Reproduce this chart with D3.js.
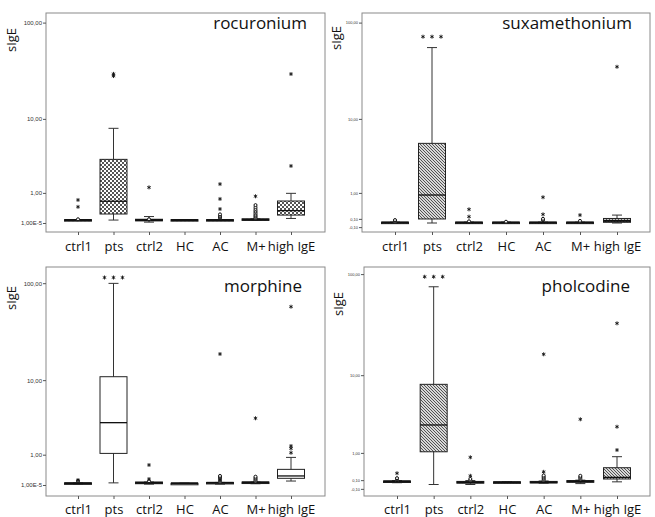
<!DOCTYPE html>
<html>
<head>
<meta charset="utf-8">
<script src="https://cdn.jsdelivr.net/npm/d3@7"></script>
<style>
  body { margin: 0; background: #fff; }
  svg { display: block; }
</style>
</head>
<body>
<div id="chart"></div>
<script>
var groups = ["ctrl1", "pts", "ctrl2", "HC", "AC", "M+", "high IgE"];

// boxes: [low whisker, q1, median, q3, high whisker]
var rocuroniumBoxes = [
  [0.06, 0.06, 0.07, 0.08, 0.08],
  [0.07, 0.23, 0.65, 3.33, 7.85],
  [0.02, 0.05, 0.07, 0.09, 0.16],
  [0.06, 0.06, 0.07, 0.08, 0.08],
  [0.06, 0.06, 0.07, 0.08, 0.08],
  [0.07, 0.07, 0.08, 0.10, 0.10],
  [0.11, 0.20, 0.33, 0.66, 0.98]
];
var rocuroniumExtremes = [[0.45, 0.70], [28.5, 30], [1.27], [], [0.38, 0.74, 1.45], [0.85], [2.72, 29.9]];
var rocuroniumOutliers = [[0.09], [], [0.09], [], [0.12, 0.15, 0.18, 0.22], [0.12, 0.15, 0.18, 0.21, 0.25, 0.29, 0.33, 0.38, 0.44, 0.51], []];

var suxamethoniumBoxes = [
  [0.0, 0.0, 0.01, 0.02, 0.02],
  [0.0, 0.097, 0.905, 5.26, 55.8],
  [0.0, 0.0, 0.01, 0.02, 0.02],
  [0.0, 0.0, 0.01, 0.02, 0.02],
  [0.0, 0.0, 0.01, 0.02, 0.02],
  [0.0, 0.0, 0.01, 0.02, 0.02],
  [0.0, 0.016, 0.05, 0.11, 0.2]
];
var suxamethoniumExtremes = [[], [72, 72, 72], [0.157, 0.37], [], [0.22, 0.81], [0.2], [35.5]];
var suxamethoniumOutliers = [[0.03, 0.05, 0.07], [], [0.04], [0.03], [0.07, 0.1], [0.05], []];

var morphineBoxes = [
  [0.02, 0.02, 0.04, 0.05, 0.05],
  [0.05, 1.06, 3.16, 10.9, 99.6],
  [0.02, 0.03, 0.05, 0.07, 0.07],
  [0.04, 0.04, 0.04, 0.04, 0.04],
  [0.02, 0.03, 0.05, 0.06, 0.06],
  [0.03, 0.04, 0.06, 0.07, 0.07],
  [0.095, 0.165, 0.23, 0.43, 0.88]
];
var morphineExtremes = [[0.12], [114, 114, 114], [0.147, 0.58], [], [19], [3.6], [1.09, 1.31, 1.44, 58]];
var morphineOutliers = [[0.1], [], [0.09], [], [0.08, 0.11, 0.14, 0.17, 0.2, 0.23], [0.09, 0.12, 0.15, 0.18, 0.21], []];

var pholcodineBoxes = [
  [0.04, 0.05, 0.07, 0.08, 0.09],
  [0.0, 1.05, 2.69, 8.0, 75.5],
  [0.0, 0.03, 0.05, 0.07, 0.09],
  [0.05, 0.05, 0.05, 0.06, 0.06],
  [0.03, 0.04, 0.05, 0.07, 0.08],
  [0.02, 0.05, 0.07, 0.09, 0.1],
  [0.06, 0.128, 0.17, 0.445, 0.84]
];
var pholcodineExtremes = [[0.28], [94.3, 94.3, 94.3], [0.21, 0.815], [], [0.32, 16.4], [3.18], [1.13, 2.55, 33.3]];
var pholcodineOutliers = [[0.1, 0.12, 0.15], [], [0.1, 0.13], [], [0.1, 0.13, 0.16, 0.19, 0.22], [0.12, 0.15, 0.18, 0.21], []];

var ticksA = [0.00001, 1, 10, 100];
var tickLabelsA = ["1,00E-5", "1,00", "10,00", "100,00"];
var ticksB = [-0.1, 0.1, 1, 10, 100];
var tickLabelsB = ["-0,10", "0,10", "1,00", "10,00", "100,00"];

var W = 655, H = 517;
var svg = d3.select("#chart").append("svg").attr("width", W).attr("height", H);
var defs = svg.append("defs");

// checker pattern
var pc = defs.append("pattern").attr("id", "checker").attr("patternUnits", "userSpaceOnUse")
  .attr("width", 4).attr("height", 4);
pc.append("rect").attr("width", 4).attr("height", 4).attr("fill", "#fff");
pc.append("rect").attr("width", 2).attr("height", 2).attr("fill", "#555");
pc.append("rect").attr("x", 2).attr("y", 2).attr("width", 2).attr("height", 2).attr("fill", "#555");

// diagonal hatch
var ph = defs.append("pattern").attr("id", "hatch").attr("patternUnits", "userSpaceOnUse")
  .attr("width", 3).attr("height", 3);
ph.append("rect").attr("width", 3).attr("height", 3).attr("fill", "#d8d8d8");
ph.append("path").attr("d", "M-1,-1 L4,4 M-1,2 L1,4 M2,-1 L4,1").attr("stroke", "#444").attr("stroke-width", 0.9);

var panels = [
  {title: "rocuronium", boxes: rocuroniumBoxes, extremes: rocuroniumExtremes, outliers: rocuroniumOutliers,
   fill: "url(#checker)", frame: [46, 13, 325, 232], zeroY: 223, topY: 22.6, xr: [78, 291],
   ticks: ticksA, tickLabels: tickLabelsA, tickFont: 6, titleX: 307, titleY: 29, ylabY: 40, ylabX: 16, xlabY: 251},
  {title: "suxamethonium", boxes: suxamethoniumBoxes, extremes: suxamethoniumExtremes, outliers: suxamethoniumOutliers,
   fill: "url(#hatch)", frame: [362, 13, 650, 232], zeroY: 223, topY: 22.6, xr: [395, 617],
   ticks: ticksB, tickLabels: tickLabelsB, tickFont: 4, titleX: 632, titleY: 29, ylabY: 38, ylabX: 341, xlabY: 251},
  {title: "morphine", boxes: morphineBoxes, extremes: morphineExtremes, outliers: morphineOutliers,
   fill: "#fff", frame: [46, 267, 325, 496], zeroY: 485, topY: 283.2, xr: [78, 291],
   ticks: ticksA, tickLabels: tickLabelsA, tickFont: 6, titleX: 302, titleY: 292, ylabY: 298, ylabX: 16, xlabY: 514},
  {title: "pholcodine", boxes: pholcodineBoxes, extremes: pholcodineExtremes, outliers: pholcodineOutliers,
   fill: "url(#hatch)", frame: [364, 267, 650, 496], zeroY: 484.5, topY: 274.1, xr: [397, 617],
   ticks: ticksB, tickLabels: tickLabelsB, tickFont: 4, titleX: 630, titleY: 292, ylabY: 304, ylabX: 343, xlabY: 514}
];

var font = "'Open Sans', Lato, sans-serif";
var boxW = 27;

function asterisk(r) {
  var p = "";
  [90, 30, -30].forEach(function(a) {
    var t = a * Math.PI / 180, dx = r * Math.cos(t), dy = r * Math.sin(t);
    p += "M" + (-dx) + "," + (-dy) + "L" + dx + "," + dy;
  });
  return p;
}

panels.forEach(function(p) {
  var g = svg.append("g");
  var f = p.frame;

  var x = d3.scalePoint().domain(groups).range(p.xr);
  var y = d3.scaleSymlog().constant(1).domain([0, 100]).range([p.zeroY, p.topY]);

  // frame
  g.append("rect").attr("x", f[0]).attr("y", f[1]).attr("width", f[2] - f[0]).attr("height", f[3] - f[1])
    .attr("fill", "none").attr("stroke", "#8a8a8a").attr("stroke-width", 1);

  // y axis
  var yAxis = d3.axisLeft(y).tickValues(p.ticks).tickSize(3).tickPadding(1)
    .tickFormat(function(d, i) { return p.tickLabels[i]; });
  var ya = g.append("g").attr("transform", "translate(" + f[0] + ",0)").call(yAxis);
  ya.select(".domain").remove();
  ya.selectAll("line").attr("stroke", "#555");
  ya.selectAll("text").style("font-size", p.tickFont + "px").style("font-family", "Arial, sans-serif").attr("fill", "#333");

  // x axis
  var xAxis = d3.axisBottom(x).tickSize(3).tickPadding(4);
  var xa = g.append("g").attr("transform", "translate(0," + f[3] + ")").call(xAxis);
  xa.select(".domain").remove();
  xa.selectAll("line").attr("stroke", "#555");
  xa.selectAll("text").attr("y", null).attr("dy", null)
    .attr("transform", "translate(0," + (p.xlabY - f[3]) + ")")
    .style("font-size", "13px").style("font-family", font).attr("fill", "#111");

  // whiskers + boxes
  var bx = g.selectAll(".box").data(p.boxes).enter().append("g").attr("class", "box");
  bx.append("line")
    .attr("x1", function(d, i) { return x(groups[i]); })
    .attr("x2", function(d, i) { return x(groups[i]); })
    .attr("y1", function(d) { return y(d[0]); })
    .attr("y2", function(d) { return y(d[4]); })
    .attr("stroke", "#333");
  bx.selectAll(".cap").data(function(d, i) { return [[d[0], i], [d[4], i]]; }).enter().append("line")
    .attr("x1", function(d) { return x(groups[d[1]]) - 5; })
    .attr("x2", function(d) { return x(groups[d[1]]) + 5; })
    .attr("y1", function(d) { return y(d[0]); })
    .attr("y2", function(d) { return y(d[0]); })
    .attr("stroke", "#333");
  bx.append("rect")
    .attr("x", function(d, i) { return x(groups[i]) - boxW / 2; })
    .attr("y", function(d) { return y(d[3]); })
    .attr("width", boxW)
    .attr("height", function(d) { return Math.max(1.5, y(d[1]) - y(d[3])); })
    .attr("fill", p.fill).attr("stroke", "#222").attr("stroke-width", 1);
  bx.append("line")
    .attr("x1", function(d, i) { return x(groups[i]) - boxW / 2; })
    .attr("x2", function(d, i) { return x(groups[i]) + boxW / 2; })
    .attr("y1", function(d) { return y(d[2]); })
    .attr("y2", function(d) { return y(d[2]); })
    .attr("stroke", "#111").attr("stroke-width", function(d) { return y(d[1]) - y(d[3]) < 4 ? 2 : 1.3; });

  // outliers (circles)
  var outs = [];
  p.outliers.forEach(function(vals, i) { vals.forEach(function(v) { outs.push({g: groups[i], v: v}); }); });
  g.selectAll(".out").data(outs).enter().append("circle")
    .attr("cx", function(d) { return x(d.g); })
    .attr("cy", function(d) { return y(d.v); })
    .attr("r", 1.5).attr("fill", "#fff").attr("stroke", "#111").attr("stroke-width", 1);

  // extremes (asterisks), repeated values spread sideways
  var ext = [];
  p.extremes.forEach(function(vals, i) {
    var counts = {};
    vals.forEach(function(v) {
      var n = counts[v] || 0; counts[v] = n + 1;
      var total = vals.filter(function(w) { return w === v; }).length;
      ext.push({g: groups[i], v: v, off: (n - (total - 1) / 2) * 9 });
    });
  });
  g.selectAll(".ext").data(ext).enter().append("path")
    .attr("transform", function(d) { return "translate(" + (x(d.g) + d.off) + "," + y(d.v) + ")"; })
    .attr("d", asterisk(2)).attr("stroke", "#111").attr("stroke-width", 0.9);

  // title
  g.append("text").attr("x", p.titleX).attr("y", p.titleY).attr("text-anchor", "end")
    .text(p.title).style("font-size", "17px").style("font-family", font).attr("fill", "#111");

  // y label
  g.append("text").attr("transform", "translate(" + p.ylabX + "," + p.ylabY + ") rotate(-90)")
    .attr("text-anchor", "middle").text("sIgE")
    .style("font-size", "13px").style("font-family", font).attr("fill", "#111");
});
</script>
</body>
</html>
